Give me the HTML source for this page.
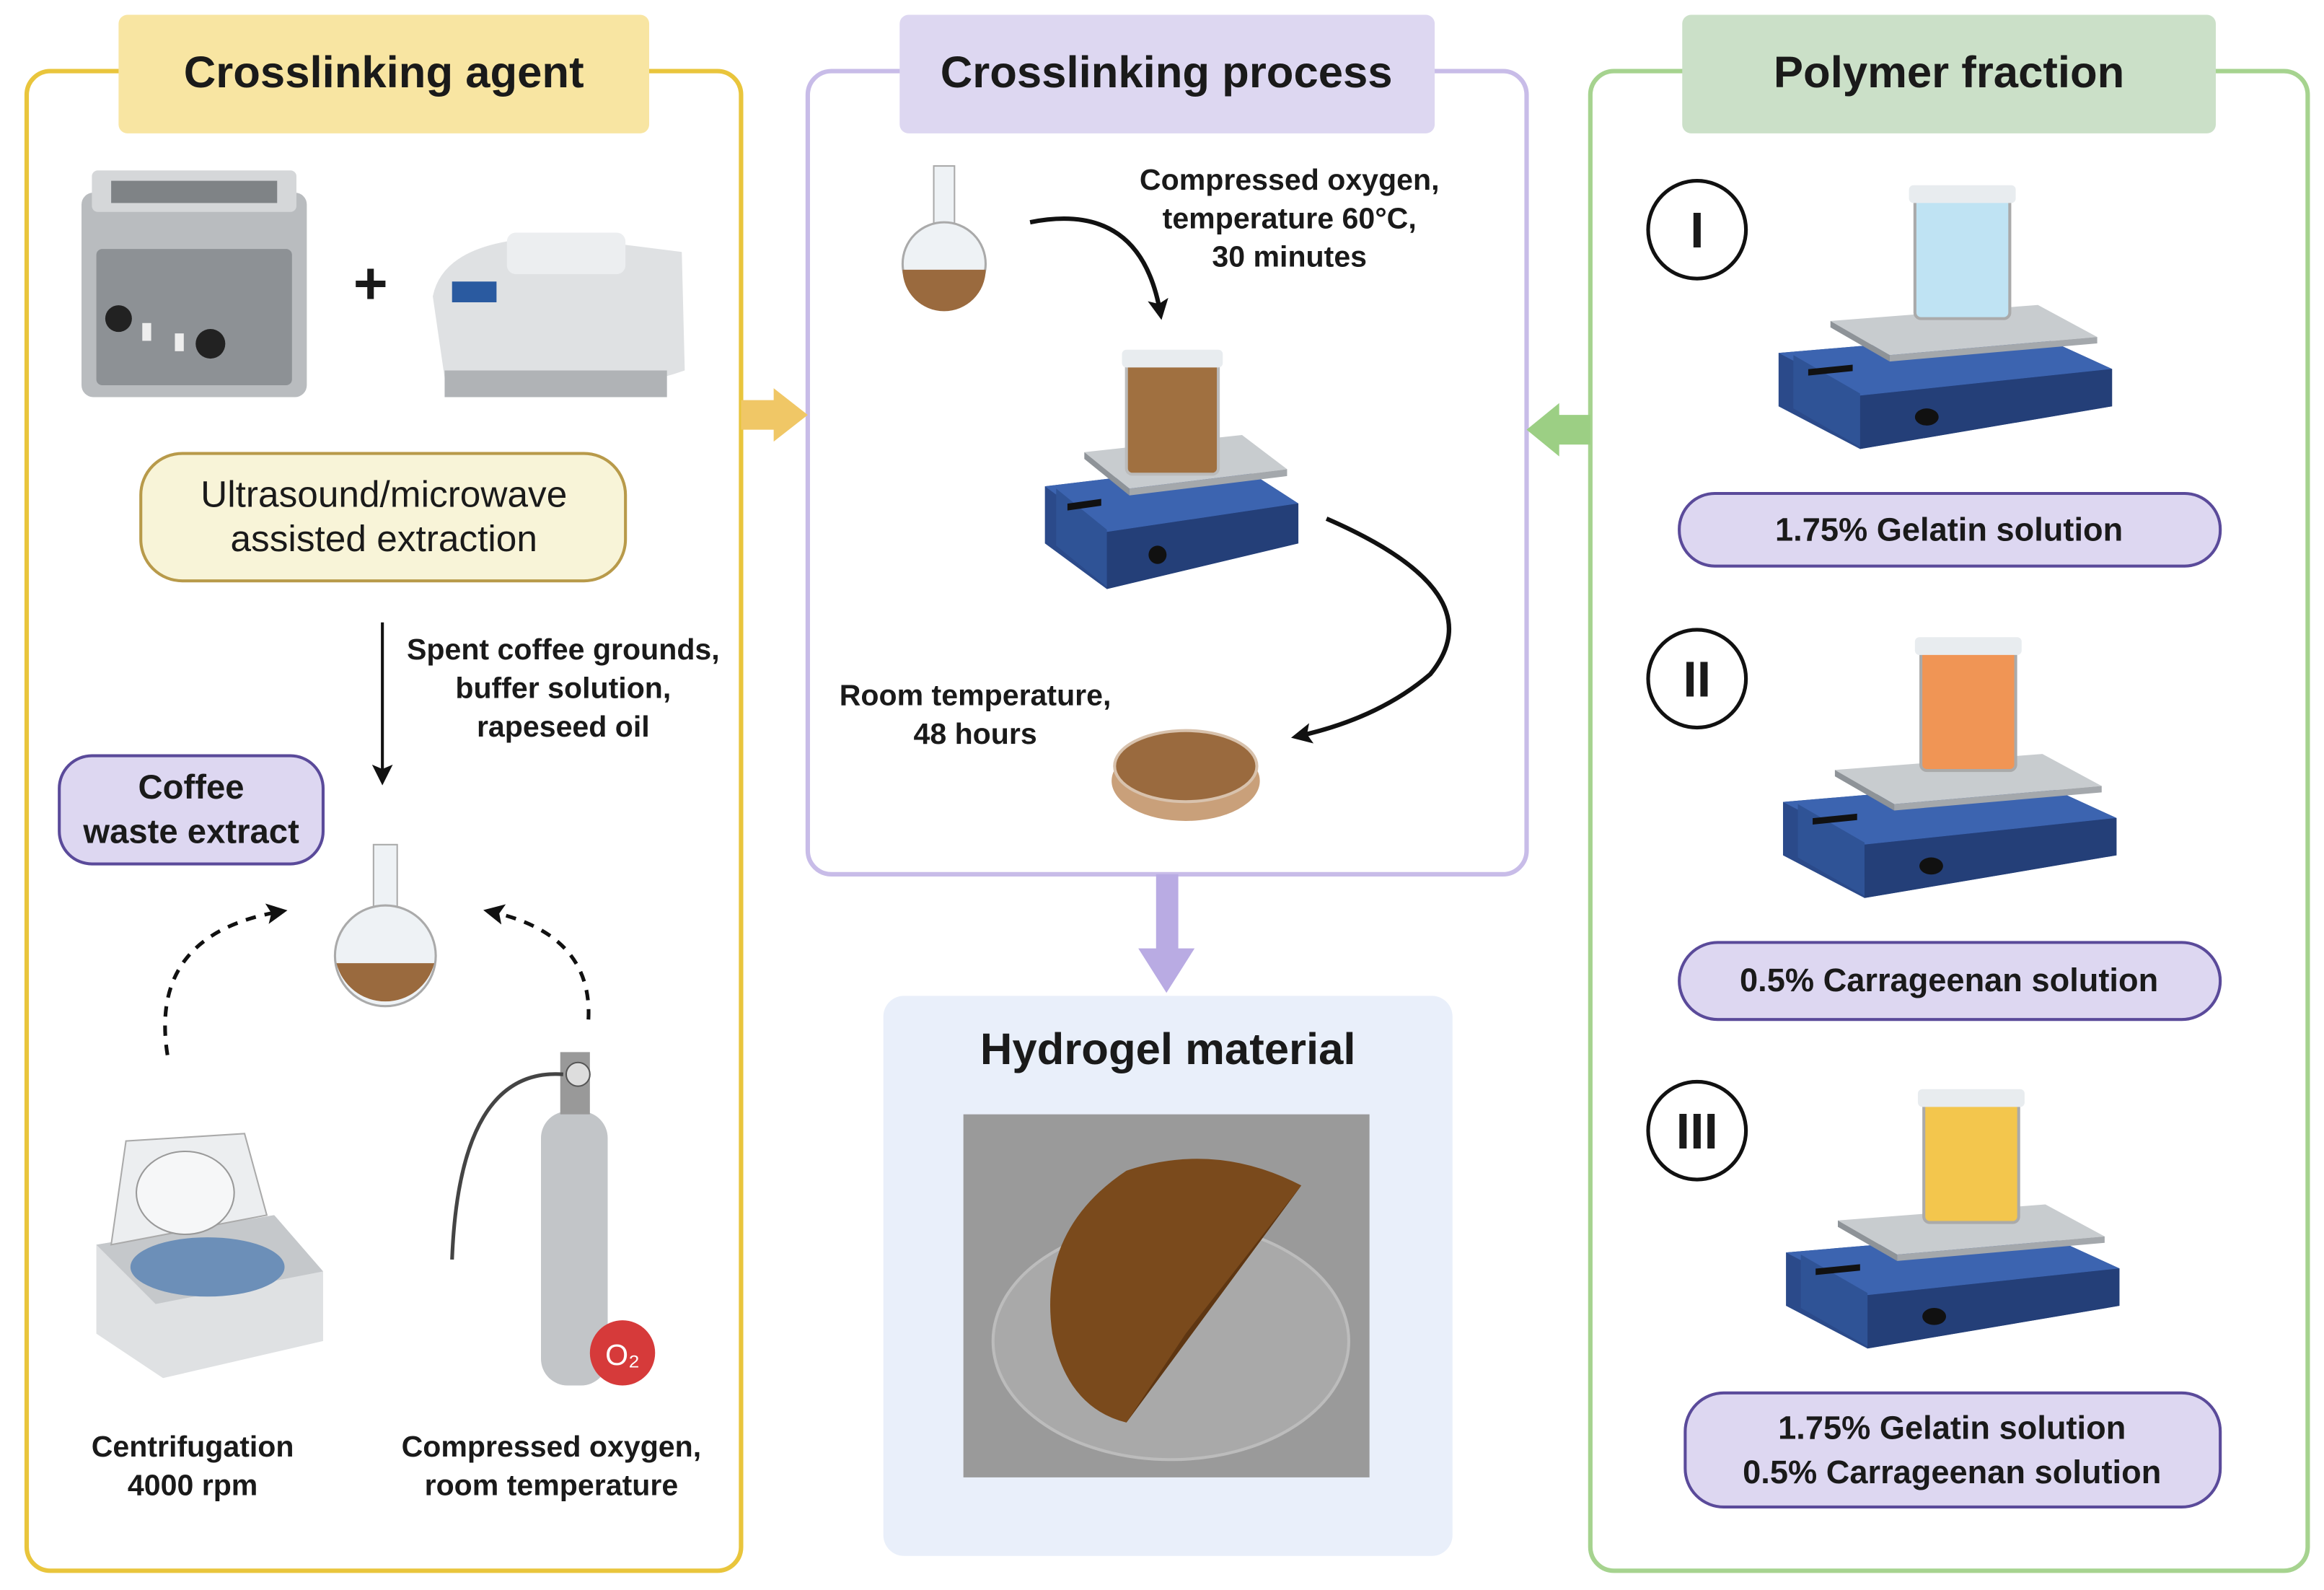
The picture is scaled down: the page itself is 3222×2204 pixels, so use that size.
<!DOCTYPE html>
<html><head><meta charset="utf-8"><style>
html,body{margin:0;padding:0;background:#fff;}
svg{display:block;}
text{font-family:"Liberation Sans",sans-serif;fill:#1a1a1a;}
</style></head><body>
<svg width="3222" height="2204" viewBox="0 0 1568 1073" preserveAspectRatio="none" xmlns="http://www.w3.org/2000/svg">
<defs>
<marker id="ah2" markerWidth="14" markerHeight="14" refX="10" refY="7" orient="auto" markerUnits="userSpaceOnUse"><path d="M0,0 L14,7 L0,14 L3,7 Z" fill="#111"/></marker>
<g id="stir">
  <polygon points="0,60 170,40 225,75 225,110 55,150 0,110" fill="#2b4a8a"/>
  <polygon points="0,60 170,40 225,75 55,100" fill="#3c64b0"/>
  <polygon points="55,100 225,75 225,110 55,150" fill="#243f78"/>
  <polygon points="10,62 55,98 55,148 10,112" fill="#2f5396"/>
  <rect x="20" y="78" width="30" height="6" fill="#111" transform="skewY(-8)"/>
  <circle cx="100" cy="120" r="8" fill="#111"/>
  <polygon points="35,30 175,15 215,45 75,62" fill="#c8cccf"/>
  <polygon points="35,30 75,62 75,68 35,36" fill="#8e9398"/>
  <polygon points="75,62 215,45 215,51 75,68" fill="#a4a8ac"/>
</g>
</defs>

<rect x="18" y="48" width="482" height="1012" rx="16" fill="none" stroke="#e9c53c" stroke-width="3"/>
<rect x="545" y="48" width="485" height="542" rx="16" fill="none" stroke="#c8bce8" stroke-width="3"/>
<rect x="1073" y="48" width="484" height="1012" rx="16" fill="none" stroke="#a6d38f" stroke-width="3"/>

<rect x="80" y="10" width="358" height="80" rx="6" fill="#f8e5a2"/>
<text x="259" y="59" font-size="30" font-weight="bold" text-anchor="middle">Crosslinking agent</text>
<rect x="607" y="10" width="361" height="80" rx="6" fill="#ddd7f1"/>
<text x="787" y="59" font-size="30" font-weight="bold" text-anchor="middle">Crosslinking process</text>
<rect x="1135" y="10" width="360" height="80" rx="6" fill="#cbe0c8"/>
<text x="1315" y="59" font-size="30" font-weight="bold" text-anchor="middle">Polymer fraction</text>

<polygon points="500,270 522,270 522,262 545,280 522,298 522,290 500,290" fill="#f0c766"/>
<polygon points="1073,280 1052,280 1052,272 1030,290 1052,308 1052,300 1073,300" fill="#9ccf84"/>
<polygon points="780,590 795,590 795,640 806,640 787,670 768,640 780,640" fill="#b9abe3"/>

<g>
 <rect x="55" y="130" width="152" height="138" rx="8" fill="#b9bcbf"/>
 <rect x="62" y="115" width="138" height="28" rx="4" fill="#d5d7d9"/>
 <rect x="75" y="122" width="112" height="15" fill="#7f8386"/>
 <rect x="65" y="168" width="132" height="92" rx="4" fill="#8d9195"/>
 <circle cx="80" cy="215" r="9" fill="#222"/><circle cx="142" cy="232" r="10" fill="#222"/>
 <rect x="96" y="218" width="6" height="12" fill="#eee"/><rect x="118" y="225" width="6" height="12" fill="#eee"/>
</g>
<text x="250" y="205" font-size="40" font-weight="bold" text-anchor="middle">+</text>
<g>
 <path d="M292,200 Q300,160 380,160 L460,170 L462,250 Q400,272 300,255 Z" fill="#dfe1e3"/>
 <rect x="300" y="250" width="150" height="18" fill="#b0b3b6"/>
 <rect x="342" y="157" width="80" height="28" rx="6" fill="#eceef0"/>
 <rect x="305" y="190" width="30" height="14" fill="#2a5aa0"/>
</g>
<rect x="95" y="306" width="327" height="86" rx="28" fill="#f8f4d8" stroke="#b89a4a" stroke-width="2"/>
<text x="259" y="342" font-size="25" text-anchor="middle">Ultrasound/microwave</text>
<text x="259" y="372" font-size="25" text-anchor="middle">assisted extraction</text>
<line x1="258" y1="420" x2="258" y2="526" stroke="#111" stroke-width="2" marker-end="url(#ah2)"/>
<text x="380" y="445" font-size="20" font-weight="bold" text-anchor="middle">Spent coffee grounds,</text>
<text x="380" y="471" font-size="20" font-weight="bold" text-anchor="middle">buffer solution,</text>
<text x="380" y="497" font-size="20" font-weight="bold" text-anchor="middle">rapeseed oil</text>
<rect x="40" y="510" width="178" height="73" rx="22" fill="#ddd7f1" stroke="#5a4a9a" stroke-width="2"/>
<text x="129" y="539" font-size="23" font-weight="bold" text-anchor="middle">Coffee</text>
<text x="129" y="569" font-size="23" font-weight="bold" text-anchor="middle">waste extract</text>
<rect x="252" y="570" width="16" height="45" fill="#eef2f5" stroke="#aaa"/>
<circle cx="260" cy="645" r="34" fill="#eef2f5" stroke="#aaa" stroke-width="1.5"/>
<path d="M227,650 A34,34 0 0,0 293,650 Z" fill="#9a6a3e"/>
<path d="M113,712 Q100,630 190,615" fill="none" stroke="#111" stroke-width="2.5" stroke-dasharray="7,6" marker-end="url(#ah2)"/>
<path d="M397,688 Q400,630 330,615" fill="none" stroke="#111" stroke-width="2.5" stroke-dasharray="7,6" marker-end="url(#ah2)"/>
<g>
 <polygon points="65,840 185,820 218,858 218,905 110,930 65,900" fill="#dfe1e3"/>
 <polygon points="65,840 185,820 218,858 105,880" fill="#c5c8cb"/>
 <ellipse cx="140" cy="855" rx="52" ry="20" fill="#6c8fb8"/>
 <path d="M75,840 L85,770 L165,765 L180,820 Z" fill="#eceef0" stroke="#aaa"/>
 <ellipse cx="125" cy="805" rx="33" ry="28" fill="#f6f7f8" stroke="#999"/>
</g>
<g>
 <rect x="365" y="750" width="45" height="185" rx="18" fill="#c2c5c8"/>
 <rect x="378" y="710" width="20" height="42" fill="#999"/>
 <circle cx="390" cy="725" r="8" fill="#ddd" stroke="#555"/>
 <path d="M380,725 Q310,720 305,850" fill="none" stroke="#444" stroke-width="2.5"/>
 <circle cx="420" cy="913" r="22" fill="#d63a3a"/>
 <text x="420" y="921" font-size="20" text-anchor="middle" style="fill:#fff">O₂</text>
</g>
<text x="130" y="983" font-size="20" font-weight="bold" text-anchor="middle">Centrifugation</text>
<text x="130" y="1009" font-size="20" font-weight="bold" text-anchor="middle">4000 rpm</text>
<text x="372" y="983" font-size="20" font-weight="bold" text-anchor="middle">Compressed oxygen,</text>
<text x="372" y="1009" font-size="20" font-weight="bold" text-anchor="middle">room temperature</text>

<rect x="630" y="112" width="14" height="42" fill="#eef2f5" stroke="#aaa"/>
<circle cx="637" cy="178" r="28" fill="#eef2f5" stroke="#aaa" stroke-width="1.5"/>
<path d="M609,182 A28,28 0 0,0 665,182 Z" fill="#9a6a3e"/>
<text x="870" y="128" font-size="20" font-weight="bold" text-anchor="middle">Compressed oxygen,</text>
<text x="870" y="154" font-size="20" font-weight="bold" text-anchor="middle">temperature 60°C,</text>
<text x="870" y="180" font-size="20" font-weight="bold" text-anchor="middle">30 minutes</text>
<path d="M695,150 Q770,135 783,212" fill="none" stroke="#111" stroke-width="3" marker-end="url(#ah2)"/>
<use href="#stir" transform="translate(705,282) scale(0.76,0.77)"/>
<rect x="760" y="240" width="62" height="80" rx="4" fill="#a07040" stroke="#bbb" stroke-width="2"/>
<rect x="757" y="236" width="68" height="12" rx="3" fill="#e8ecef"/>
<path d="M895,350 Q1010,400 965,455 Q930,485 875,497" fill="none" stroke="#111" stroke-width="3" marker-end="url(#ah2)"/>
<text x="658" y="476" font-size="20" font-weight="bold" text-anchor="middle">Room temperature,</text>
<text x="658" y="502" font-size="20" font-weight="bold" text-anchor="middle">48 hours</text>
<ellipse cx="800" cy="527" rx="50" ry="27" fill="#c9a07a"/>
<ellipse cx="800" cy="517" rx="48" ry="24" fill="#9a6a3e" stroke="#d8c2ad" stroke-width="2"/>

<rect x="596" y="672" width="384" height="378" rx="14" fill="#e9effa"/>
<text x="788" y="718" font-size="30" font-weight="bold" text-anchor="middle">Hydrogel material</text>
<rect x="650" y="752" width="274" height="245" fill="#9a9a9a"/>
<ellipse cx="790" cy="905" rx="120" ry="80" fill="#a9a9a9" stroke="#bcbcbc" stroke-width="2"/>
<path d="M878,800 Q820,770 760,790 Q700,830 710,900 Q720,950 760,960 Z" fill="#7a4a1c"/>
<path d="M878,800 L760,960 Q780,930 800,900 Z" fill="#5e3612"/>

<use href="#stir" transform="translate(1200,195) scale(1,0.72)"/>
<rect x="1292" y="130" width="64" height="85" rx="4" fill="#bfe3f3" stroke="#aaa" stroke-width="2"/>
<rect x="1288" y="125" width="72" height="12" rx="3" fill="#e8ecef"/>
<circle cx="1145" cy="155" r="33" fill="#fff" stroke="#111" stroke-width="2.5"/>
<text x="1145" y="167" font-size="34" font-weight="bold" text-anchor="middle">I</text>
<rect x="1133" y="333" width="365" height="49" rx="24" fill="#ddd7f1" stroke="#5a4a9a" stroke-width="2"/>
<text x="1315" y="365" font-size="22" font-weight="bold" text-anchor="middle">1.75% Gelatin solution</text>

<use href="#stir" transform="translate(1203,498) scale(1,0.72)"/>
<rect x="1296" y="435" width="64" height="85" rx="4" fill="#f09555" stroke="#aaa" stroke-width="2"/>
<rect x="1292" y="430" width="72" height="12" rx="3" fill="#e8ecef"/>
<circle cx="1145" cy="458" r="33" fill="#fff" stroke="#111" stroke-width="2.5"/>
<text x="1145" y="470" font-size="34" font-weight="bold" text-anchor="middle">II</text>
<rect x="1133" y="636" width="365" height="52" rx="26" fill="#ddd7f1" stroke="#5a4a9a" stroke-width="2"/>
<text x="1315" y="669" font-size="22" font-weight="bold" text-anchor="middle">0.5% Carrageenan solution</text>

<use href="#stir" transform="translate(1205,802) scale(1,0.72)"/>
<rect x="1298" y="740" width="64" height="85" rx="4" fill="#f3c64d" stroke="#aaa" stroke-width="2"/>
<rect x="1294" y="735" width="72" height="12" rx="3" fill="#e8ecef"/>
<circle cx="1145" cy="763" r="33" fill="#fff" stroke="#111" stroke-width="2.5"/>
<text x="1145" y="775" font-size="34" font-weight="bold" text-anchor="middle">III</text>
<rect x="1137" y="940" width="361" height="77" rx="26" fill="#ddd7f1" stroke="#5a4a9a" stroke-width="2"/>
<text x="1317" y="971" font-size="22" font-weight="bold" text-anchor="middle">1.75% Gelatin solution</text>
<text x="1317" y="1001" font-size="22" font-weight="bold" text-anchor="middle">0.5% Carrageenan solution</text>
</svg>
</body></html>
